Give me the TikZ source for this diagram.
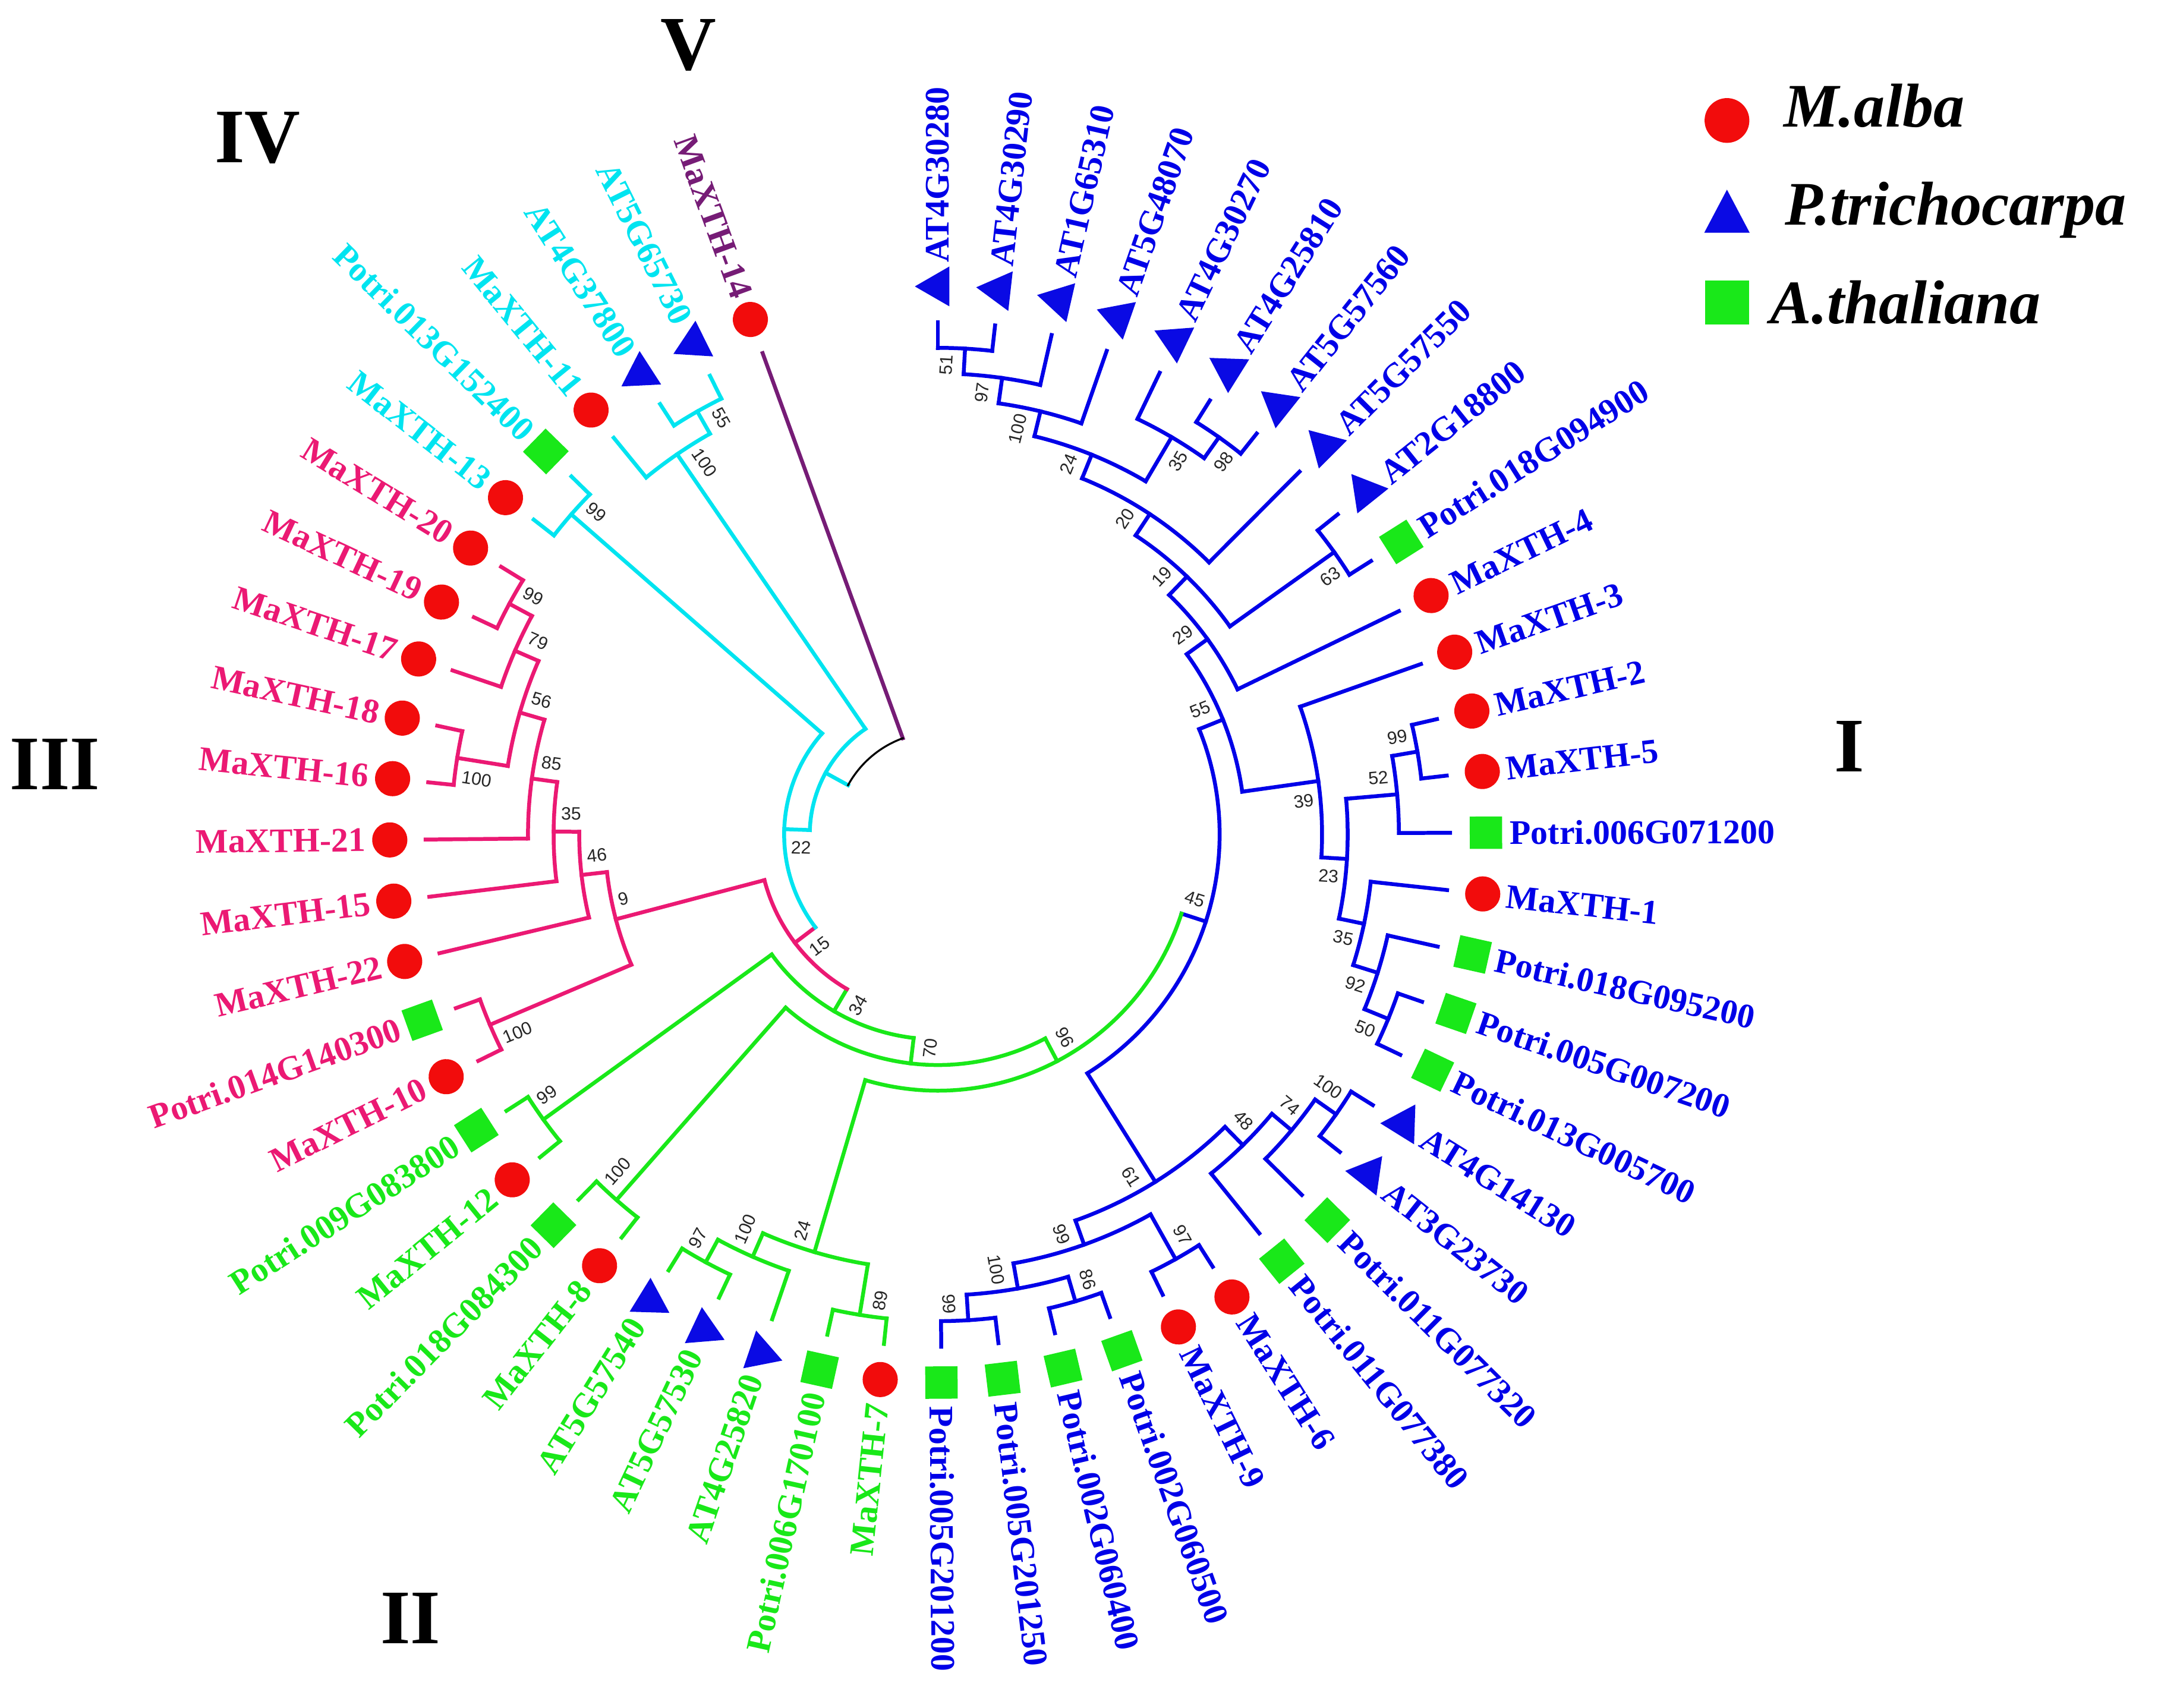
\documentclass[tikz,border=0pt]{standalone}
\usepackage{fontspec}
\setmainfont{Liberation Serif}
\newfontfamily\bootfont{Liberation Sans}
\usetikzlibrary{shapes.geometric}
\definecolor{cI}{RGB}{0,0,232}
\definecolor{cII}{RGB}{25,232,25}
\definecolor{cIII}{RGB}{235,25,115}
\definecolor{cIV}{RGB}{0,228,240}
\definecolor{cV}{RGB}{118,28,118}
\definecolor{symred}{RGB}{242,12,12}
\definecolor{symblue}{RGB}{10,10,228}
\definecolor{symgreen}{RGB}{25,232,25}
\tikzset{
  branch/.style={line width=1.4pt, line cap=rect},
  leaflab/.style={font=\fontsize{12.5}{14}\selectfont\bfseries, inner sep=0pt},
  boot/.style={font=\bootfont\fontsize{6.5}{7.5}\selectfont, inner sep=0pt, text=black!85},
  circsym/.style={circle, fill=symred, inner sep=0pt, minimum size=12.75pt},
  trisym/.style={regular polygon, regular polygon sides=3, fill=symblue, inner sep=0pt, minimum size=16.7pt},
  sqsym/.style={rectangle, fill=symgreen, inner sep=0pt, minimum size=11.75pt},
  cladenum/.style={font=\fontsize{28}{32}\selectfont\bfseries, inner sep=0pt},
  legtxt/.style={font=\fontsize{22.5}{26}\selectfont\bfseries\itshape, inner sep=0pt, anchor=base west},
}
% leaf: id, index, colour, symbol style, text
\newcommand\TLeaf[5]{%
  \edef\tlA{\fpeval{round(450-340/53*(#2),4)}}%
  \expandafter\xdef\csname ang@#1\endcsname{\tlA}%
  \expandafter\xdef\csname col@#1\endcsname{#3}%
  \coordinate (#1) at (\tlA:372);
  \node[#4, rotate=\tlA] (#1s) at (\tlA:398) {};
  \ifnum\fpeval{cosd(\tlA)>-0.01}=1
    \node[leaflab, text=#3, anchor=west, rotate=\tlA] (#1t) at (\tlA:415) {#5};
  \else
    \edef\tlB{\fpeval{\tlA-180}}%
    \node[leaflab, text=#3, anchor=east, rotate=\tlB] (#1t) at (\tlA:415) {#5};
  \fi
}
% inner node: id, child1, child2, height, colour, bootstrap, side
\newcommand\TNode[7]{%
  \edef\tnA{\csname ang@#2\endcsname}%
  \edef\tnB{\csname ang@#3\endcsname}%
  \edef\tnR{\fpeval{372-18.6*(#4)}}%
  \edef\tnM{\fpeval{(\tnA+\tnB)/2}}%
  \expandafter\xdef\csname ang@#1\endcsname{\tnM}%
  \expandafter\xdef\csname col@#1\endcsname{#5}%
  \edef\tnCa{\csname col@#2\endcsname}%
  \edef\tnCb{\csname col@#3\endcsname}%
  \coordinate (#1) at (\tnM:\tnR);
  \coordinate (#1a) at (\tnA:\tnR);
  \coordinate (#1b) at (\tnB:\tnR);
  \draw[branch, draw=\tnCa] (#1a) -- (#2);
  \draw[branch, draw=\tnCb] (#1b) -- (#3);
  \draw[branch, draw=#5] (#1a) arc[start angle=\tnA, end angle=\tnB, radius={\tnR*0.5pt}];
  \if\relax\detokenize{#6}\relax\else
    \edef\tnP{\fpeval{\tnM+90*(#7)}}%
    \path (\tnM:\tnR-5) ++(\tnP:8) coordinate (#1bp);
    \ifnum\fpeval{cosd(\tnM)>-0.01}=1
      \ifnum#7>0 \def\tnAnc{south east}\else\def\tnAnc{north east}\fi
      \node[boot, anchor=\tnAnc, rotate=\tnM] (#1bs) at (#1bp) {#6};
    \else
      \ifnum#7>0 \def\tnAnc{north west}\else\def\tnAnc{south west}\fi
      \edef\tnL{\fpeval{\tnM-180}}%
      \node[boot, anchor=\tnAnc, rotate=\tnL] (#1bs) at (#1bp) {#6};
    \fi
  \fi
}
\begin{document}
\begin{tikzpicture}[x=0.5pt,y=0.5pt]
\useasboundingbox (-681,-634.3) rectangle (886,606);
\fill[white] (-681,-634.3) rectangle (886,606);
% ---------- leaves ----------
\TLeaf{L0}{0}{cI}{trisym}{AT4G30280}
\TLeaf{L1}{1}{cI}{trisym}{AT4G30290}
\TLeaf{L2}{2}{cI}{trisym}{AT1G65310}
\TLeaf{L3}{3}{cI}{trisym}{AT5G48070}
\TLeaf{L4}{4}{cI}{trisym}{AT4G30270}
\TLeaf{L5}{5}{cI}{trisym}{AT4G25810}
\TLeaf{L6}{6}{cI}{trisym}{AT5G57560}
\TLeaf{L7}{7}{cI}{trisym}{AT5G57550}
\TLeaf{L8}{8}{cI}{trisym}{AT2G18800}
\TLeaf{L9}{9}{cI}{sqsym}{Potri.018G094900}
\TLeaf{L10}{10}{cI}{circsym}{MaXTH-4}
\TLeaf{L11}{11}{cI}{circsym}{MaXTH-3}
\TLeaf{L12}{12}{cI}{circsym}{MaXTH-2}
\TLeaf{L13}{13}{cI}{circsym}{MaXTH-5}
\TLeaf{L14}{14}{cI}{sqsym}{Potri.006G071200}
\TLeaf{L15}{15}{cI}{circsym}{MaXTH-1}
\TLeaf{L16}{16}{cI}{sqsym}{Potri.018G095200}
\TLeaf{L17}{17}{cI}{sqsym}{Potri.005G007200}
\TLeaf{L18}{18}{cI}{sqsym}{Potri.013G005700}
\TLeaf{L19}{19}{cI}{trisym}{AT4G14130}
\TLeaf{L20}{20}{cI}{trisym}{AT3G23730}
\TLeaf{L21}{21}{cI}{sqsym}{Potri.011G077320}
\TLeaf{L22}{22}{cI}{sqsym}{Potri.011G077380}
\TLeaf{L23}{23}{cI}{circsym}{MaXTH-6}
\TLeaf{L24}{24}{cI}{circsym}{MaXTH-9}
\TLeaf{L25}{25}{cI}{sqsym}{Potri.002G060500}
\TLeaf{L26}{26}{cI}{sqsym}{Potri.002G060400}
\TLeaf{L27}{27}{cI}{sqsym}{Potri.005G201250}
\TLeaf{L28}{28}{cI}{sqsym}{Potri.005G201200}
\TLeaf{L29}{29}{cII}{circsym}{MaXTH-7}
\TLeaf{L30}{30}{cII}{sqsym}{Potri.006G170100}
\TLeaf{L31}{31}{cII}{trisym}{AT4G25820}
\TLeaf{L32}{32}{cII}{trisym}{AT5G57530}
\TLeaf{L33}{33}{cII}{trisym}{AT5G57540}
\TLeaf{L34}{34}{cII}{circsym}{MaXTH-8}
\TLeaf{L35}{35}{cII}{sqsym}{Potri.018G084300}
\TLeaf{L36}{36}{cII}{circsym}{MaXTH-12}
\TLeaf{L37}{37}{cII}{sqsym}{Potri.009G083800}
\TLeaf{L38}{38}{cIII}{circsym}{MaXTH-10}
\TLeaf{L39}{39}{cIII}{sqsym}{Potri.014G140300}
\TLeaf{L40}{40}{cIII}{circsym}{MaXTH-22}
\TLeaf{L41}{41}{cIII}{circsym}{MaXTH-15}
\TLeaf{L42}{42}{cIII}{circsym}{MaXTH-21}
\TLeaf{L43}{43}{cIII}{circsym}{MaXTH-16}
\TLeaf{L44}{44}{cIII}{circsym}{MaXTH-18}
\TLeaf{L45}{45}{cIII}{circsym}{MaXTH-17}
\TLeaf{L46}{46}{cIII}{circsym}{MaXTH-19}
\TLeaf{L47}{47}{cIII}{circsym}{MaXTH-20}
\TLeaf{L48}{48}{cIV}{circsym}{MaXTH-13}
\TLeaf{L49}{49}{cIV}{sqsym}{Potri.013G152400}
\TLeaf{L50}{50}{cIV}{circsym}{MaXTH-11}
\TLeaf{L51}{51}{cIV}{trisym}{AT4G37800}
\TLeaf{L52}{52}{cIV}{trisym}{AT5G65730}
\TLeaf{L53}{53}{cV}{circsym}{MaXTH-14}
% ---------- clade I ----------
\TNode{n51}{L0}{L1}{1}{cI}{51}{1}
\TNode{n97}{n51}{L2}{2}{cI}{97}{1}
\TNode{n100a}{n97}{L3}{3}{cI}{100}{1}
\TNode{n98}{L5}{L6}{1}{cI}{98}{-1}
\TNode{n35a}{L4}{n98}{2}{cI}{35}{-1}
\TNode{n24a}{n100a}{n35a}{4}{cI}{24}{1}
\TNode{n20}{n24a}{L7}{5}{cI}{20}{1}
\TNode{n63}{L8}{L9}{1}{cI}{63}{-1}
\TNode{n19}{n20}{n63}{6}{cI}{19}{1}
\TNode{n29}{n19}{L10}{7}{cI}{29}{1}
\TNode{n99b}{L12}{L13}{1}{cI}{99}{1}
\TNode{n52}{n99b}{L14}{2}{cI}{52}{1}
\TNode{n50}{L17}{L18}{1}{cI}{50}{-1}
\TNode{n92}{L16}{n50}{2}{cI}{92}{-1}
\TNode{n35b}{L15}{n92}{3}{cI}{35}{-1}
\TNode{n23}{n52}{n35b}{4}{cI}{23}{-1}
\TNode{n39}{L11}{n23}{5}{cI}{39}{-1}
\TNode{n55}{n29}{n39}{8}{cI}{55}{1}
\TNode{n100d}{L19}{L20}{1}{cI}{100}{1}
\TNode{n74}{n100d}{L21}{2}{cI}{74}{1}
\TNode{n48}{n74}{L22}{3}{cI}{48}{1}
\TNode{n97b}{L23}{L24}{1}{cI}{97}{1}
\TNode{n86}{L25}{L26}{1}{cI}{86}{1}
\TNode{n99c}{L27}{L28}{1}{cI}{99}{-1}
\TNode{n100e}{n86}{n99c}{2}{cI}{100}{-1}
\TNode{n99d}{n97b}{n100e}{3}{cI}{99}{-1}
\TNode{n61}{n48}{n99d}{4}{cI}{61}{-1}
\TNode{n45}{n55}{n61}{9}{cI}{45}{1}
% ---------- clade II ----------
\TNode{n89}{L29}{L30}{1}{cII}{89}{1}
\TNode{n97g}{L32}{L33}{1}{cII}{97}{-1}
\TNode{n100g}{L31}{n97g}{2}{cII}{100}{-1}
\TNode{n24g}{n89}{n100g}{3}{cII}{24}{-1}
\TNode{n96}{n45}{n24g}{10}{cII}{96}{1}
\TNode{n100h}{L34}{L35}{1}{cII}{100}{-1}
\TNode{n70}{n96}{n100h}{11}{cII}{70}{1}
\TNode{n99g}{L36}{L37}{1}{cII}{99}{-1}
\TNode{n34}{n70}{n99g}{12}{cII}{34}{1}
% ---------- clade III ----------
\TNode{n100p}{L38}{L39}{1}{cIII}{100}{1}
\TNode{n99a}{L46}{L47}{1}{cIII}{99}{-1}
\TNode{n79}{L45}{n99a}{2}{cIII}{79}{-1}
\TNode{n100c}{L43}{L44}{1}{cIII}{100}{1}
\TNode{n56}{n100c}{n79}{3}{cIII}{56}{-1}
\TNode{n85}{L42}{n56}{4}{cIII}{85}{-1}
\TNode{n35c}{L41}{n85}{5}{cIII}{35}{-1}
\TNode{n46}{L40}{n35c}{6}{cIII}{46}{-1}
\TNode{n9}{n100p}{n46}{7}{cIII}{9}{-1}
\TNode{n15}{n34}{n9}{13}{cIII}{15}{1}
% ---------- clade IV / root ----------
\TNode{n99i}{L48}{L49}{1}{cIV}{99}{-1}
\TNode{n22}{n15}{n99i}{14}{cIV}{22}{1}
\TNode{n55i}{L51}{L52}{1}{cIV}{55}{-1}
\TNode{n100i}{L50}{n55i}{2}{cIV}{100}{-1}
\TNode{nX}{n22}{n100i}{15}{cIV}{}{1}
\TNode{nR}{nX}{L53}{16}{black, line width=0.7pt}{}{1}
% ---------- clade numerals ----------
\node[cladenum] (kV) at (-181,573) {V};
\node[cladenum] (kIV) at (-494,506) {IV};
\node[cladenum] (kIII) at (-641,51) {III};
\node[cladenum] (kII) at (-383,-569) {II};
\node[cladenum] (kI) at (662,64) {I};
% ---------- legend ----------
\node[circsym, minimum size=16.25pt] (lgM) at (573,518.5) {};
\node[trisym, minimum size=19.05pt, yscale=1.095] (lgP) at (573,447.4) {};
\node[sqsym, minimum size=16pt] (lgA) at (573,386.3) {};
\node[legtxt] (lgMt) at (613.8,513.8) {M.alba};
\node[legtxt] (lgPt) at (614.6,442.8) {P.trichocarpa};
\node[legtxt] (lgAt) at (604,371.2) {A.thaliana};
\end{tikzpicture}
\end{document}
